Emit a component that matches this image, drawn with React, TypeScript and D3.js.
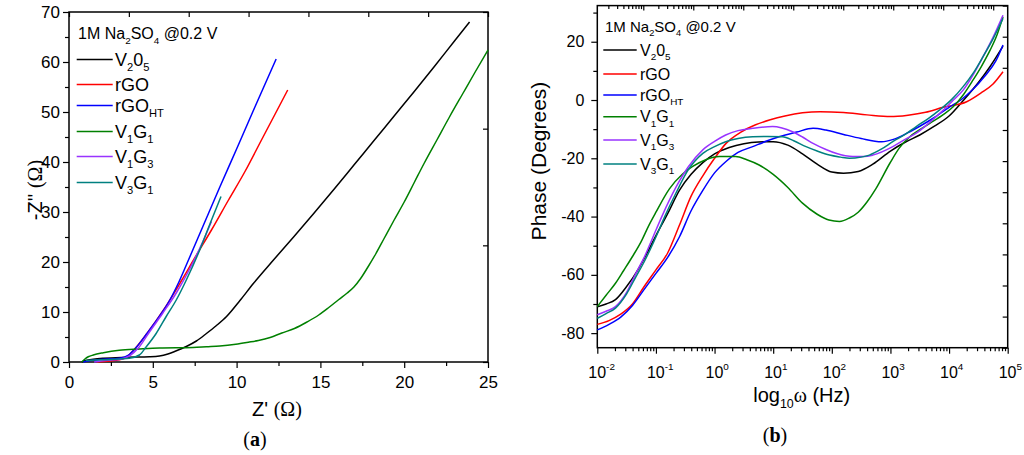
import { useRef, useEffect } from 'react';
import * as d3 from 'd3';

type Pt = [number, number];
type Part = [string, '' | 'sub' | 'sup', string?];

const SANS = "'Liberation Sans', Arial, Helvetica, sans-serif";
const SERIF = "'Liberation Serif', 'Times New Roman', serif";

// series order: V2O5, rGO, rGOHT, V1G1, V1G3, V3G1
const seriesColors = ['#000000', '#ff0000', '#0000ff', '#008000', '#9933ff', '#008080'];
const legendLabels: Part[][] = [
  [['V', ''], ['2', 'sub'], ['0', ''], ['5', 'sub']],
  [['rGO', '']],
  [['rGO', ''], ['HT', 'sub']],
  [['V', ''], ['1', 'sub'], ['G', ''], ['1', 'sub']],
  [['V', ''], ['1', 'sub'], ['G', ''], ['3', 'sub']],
  [['V', ''], ['3', 'sub'], ['G', ''], ['1', 'sub']],
];
const electrolyteLabel: Part[] = [['1M Na', ''], ['2', 'sub'], ['SO', ''], ['4', 'sub'], [' @0.2 V', '']];

// (a) Nyquist: [Z' (ohm), -Z'' (ohm)]
const nyqV2O5: Pt[] = [[0.76,0],[1.0,0.3],[1.45,0.55],[2.05,0.75],[3.4,0.95],[4.8,1.05],[5.4,1.2],[5.9,1.6],[6.3,2.1],[7.0,3.1],[7.6,4.2],[8.2,5.7],[8.8,7.3],[9.4,9.1],[10.2,12.3],[11.0,15.7],[12.2,20.4],[13.4,25.0],[14.6,29.7],[15.8,34.5],[17.0,39.4],[18.2,44.3],[19.4,49.2],[20.6,54.1],[21.8,59.1],[23.0,64.2],[23.9,68.0]];
const nyqRGO: Pt[] = [[1.65,0],[2.45,0.2],[3.0,0.45],[3.3,0.75],[3.5,1.2],[3.7,1.8],[4.05,3.1],[4.65,5.7],[5.6,10.2],[6.7,16.2],[7.5,20.8],[8.5,26.4],[9.5,32.3],[10.5,38.1],[11.5,44.5],[12.3,49.6],[13.05,54.4]];
const nyqRGOHT: Pt[] = [[0.85,0],[1.3,0.3],[1.85,0.5],[3.0,0.75],[3.55,1.4],[3.95,2.7],[4.65,5.7],[5.45,9.4],[6.0,12.3],[6.5,15.6],[7.0,19.4],[8.0,27.2],[9.0,35.0],[10.0,42.6],[11.0,50.3],[12.36,60.6]];
const nyqV1G1: Pt[] = [[0.76,0],[0.95,0.6],[1.15,1.05],[1.45,1.4],[2.05,1.85],[3.0,2.35],[4.2,2.6],[5.4,2.8],[7.4,2.9],[8.2,3.05],[9.0,3.2],[9.95,3.55],[10.7,3.95],[11.3,4.3],[12.0,4.9],[12.7,5.8],[13.45,6.7],[14.2,8.0],[14.9,9.4],[15.5,10.9],[16.1,12.5],[16.6,13.8],[17.0,15.0],[17.4,16.7],[17.8,18.8],[18.3,21.6],[18.8,24.7],[19.4,28.4],[20.0,32.0],[20.6,35.9],[21.2,39.8],[21.95,44.4],[22.7,49.0],[23.5,53.7],[24.2,57.8],[25.0,62.4]];
const nyqV1G3: Pt[] = [[1.5,0],[2.2,0.3],[3.0,0.5],[3.6,1.2],[4.2,3.05],[4.8,6.0],[5.6,9.8],[6.4,13.8],[7.2,18.6],[8.0,24.2],[8.5,28.1]];
const nyqV3G1: Pt[] = [[1.0,0.3],[1.6,0.4],[2.45,0.5],[3.6,0.75],[4.2,1.4],[4.6,3.0],[5.2,5.7],[5.8,9.1],[6.4,12.4],[7.0,16.4],[7.8,22.4],[8.42,27.7],[9.07,33.1]];

// (b) Bode phase: [log10 frequency, phase (deg)]
const bodeV2O5: Pt[] = [[-2,-71],[-1.85,-70],[-1.69,-68.5],[-1.5,-64],[-1.3,-58],[-1.15,-52.5],[-1.0,-46.5],[-0.8,-39],[-0.6,-31],[-0.4,-25.5],[-0.2,-21.5],[0,-18.5],[0.25,-16.3],[0.5,-15],[0.75,-14.4],[1.0,-14.3],[1.25,-15.5],[1.5,-18.5],[1.75,-22],[2.0,-24.7],[2.2,-25.1],[2.45,-24.5],[2.7,-22],[3.0,-17.5],[3.25,-14.5],[3.5,-12],[3.75,-9],[4.0,-5.5],[4.25,0],[4.5,6],[4.7,11.5],[4.92,18.5]];
const bodeRGO: Pt[] = [[-2,-77],[-1.8,-75.7],[-1.6,-73.5],[-1.4,-70],[-1.2,-64],[-1.0,-58.3],[-0.8,-52.5],[-0.6,-43],[-0.4,-33],[-0.2,-26],[0,-20],[0.2,-14.8],[0.45,-11],[0.7,-8.5],[0.95,-6.8],[1.2,-5.5],[1.5,-4.4],[1.8,-4],[2.2,-4.3],[2.6,-5.1],[3.0,-5.7],[3.3,-5.2],[3.6,-4.2],[3.9,-2.5],[4.3,-0.6],[4.55,2.5],[4.75,5.5],[4.92,9.7]];
const bodeRGOHT: Pt[] = [[-2,-78.9],[-1.8,-77],[-1.6,-74.5],[-1.4,-70.5],[-1.2,-65],[-1.0,-59.5],[-0.8,-54],[-0.6,-47],[-0.4,-38],[-0.2,-31],[0,-25],[0.2,-21],[0.4,-18],[0.65,-16],[0.9,-14],[1.1,-12.6],[1.4,-11],[1.68,-9.7],[1.9,-10.3],[2.2,-11.8],[2.5,-13.2],[2.85,-14.3],[3.05,-13.5],[3.3,-11.2],[3.5,-9],[3.75,-6],[4.0,-2.5],[4.2,0],[4.4,3.5],[4.6,8],[4.8,13.5],[4.92,18.9]];
const bodeV1G1: Pt[] = [[-2,-70.9],[-1.85,-67],[-1.69,-62.9],[-1.55,-58.5],[-1.4,-53.7],[-1.25,-48.5],[-1.12,-43],[-1.0,-38.5],[-0.77,-30.5],[-0.55,-25.5],[-0.38,-22.9],[-0.15,-20.5],[0.08,-19.4],[0.36,-19.4],[0.55,-20.5],[0.76,-22.3],[1.0,-25.5],[1.25,-30],[1.5,-35.4],[1.75,-39.2],[1.95,-41.2],[2.13,-41.7],[2.3,-40.5],[2.45,-38.5],[2.6,-35],[2.75,-30.5],[2.99,-21.7],[3.15,-16.5],[3.33,-12.6],[3.5,-10.2],[3.67,-8],[3.9,-5],[4.07,-2.3],[4.25,2],[4.41,6.9],[4.55,11.5],[4.7,17.1],[4.82,22.5],[4.92,28.6]];
const bodeV1G3: Pt[] = [[-2,-73.7],[-1.85,-72.5],[-1.69,-70.9],[-1.5,-66],[-1.34,-59.4],[-1.2,-54],[-1.06,-47.5],[-0.9,-40],[-0.66,-30],[-0.45,-23],[-0.2,-17.1],[0.0,-14.2],[0.19,-12],[0.4,-10.5],[0.65,-9.7],[0.99,-9.1],[1.15,-9.6],[1.33,-10.9],[1.5,-12.7],[1.68,-14.9],[1.9,-17],[2.07,-18.3],[2.36,-19.4],[2.55,-19.4],[2.7,-18.9],[3.04,-16],[3.25,-13.5],[3.44,-11.4],[3.65,-8],[3.84,-4.6],[4.05,-0.5],[4.24,3.4],[4.42,9],[4.58,14.9],[4.75,21.5],[4.92,29.1]];
const bodeV3G1: Pt[] = [[-2,-74.9],[-1.85,-73.3],[-1.69,-71.4],[-1.5,-66.5],[-1.34,-60.6],[-1.2,-55.5],[-1.0,-47],[-0.85,-40],[-0.66,-32],[-0.45,-24],[-0.2,-18.3],[0,-16],[0.19,-14.3],[0.4,-13.2],[0.65,-12.6],[0.9,-12.5],[1.16,-12.6],[1.35,-14],[1.56,-16],[1.75,-17.5],[1.96,-18.9],[2.15,-19.6],[2.3,-20],[2.5,-19.6],[2.64,-18.9],[2.85,-16.8],[3.04,-14.3],[3.25,-11.8],[3.44,-9.1],[3.65,-6.3],[3.84,-3.4],[4.05,0.3],[4.24,4.6],[4.42,9.5],[4.58,14.9],[4.75,21],[4.92,28]];

const nyquistSeries = [nyqV2O5, nyqRGO, nyqRGOHT, nyqV1G1, nyqV1G3, nyqV3G1];
const bodeSeries = [bodeV2O5, bodeRGO, bodeRGOHT, bodeV1G1, bodeV1G3, bodeV3G1];

const zReTicks = [0, 5, 10, 15, 20, 25];
const zReMinor = [2.5, 7.5, 12.5, 17.5, 22.5];
const zImTicks = [0, 10, 20, 30, 40, 50, 60, 70];
const zImMinor = [5, 15, 25, 35, 45, 55, 65];
const phaseTicks = [-80, -60, -40, -20, 0, 20];
const phaseMinor = [-70, -50, -30, -10, 10, 30];
const freqExponents = [-2, -1, 0, 1, 2, 3, 4, 5];

function addParts(t: any, parts: Part[], fs: number) {
  let shift = 0;
  parts.forEach(([s, kind, family]) => {
    const target = kind === 'sub' ? fs * 0.3 : kind === 'sup' ? -fs * 0.45 : 0;
    const ts = t.append('tspan').attr('dy', target - shift).text(s);
    if (kind) ts.attr('font-size', fs * 0.62);
    if (family) ts.attr('font-family', family);
    shift = target;
  });
}

function styleAxis(g: any, fs: number) {
  g.attr('font-family', SANS).attr('font-size', fs).attr('fill', '#000');
  g.select('.domain').remove();
  g.selectAll('line').attr('stroke', '#000').attr('stroke-width', 1.2);
  g.selectAll('text').attr('fill', '#000');
}

export default function App() {
  const svgRef = useRef<SVGSVGElement>(null);

  useEffect(() => {
    if (!svgRef.current) return;
    const svg = d3.select(svgRef.current);
    svg.selectAll('*').remove();

    // ---------- (a) Nyquist ----------
    const a = { left: 69, right: 488, top: 12, bottom: 362 };
    const x = d3.scaleLinear().domain([0, 25]).range([a.left, a.right]);
    const y = d3.scaleLinear().domain([0, 70]).range([a.bottom, a.top]);

    svg.append('g').attr('transform', `translate(0,${a.bottom})`)
      .call(d3.axisBottom(x).tickValues(zReTicks).tickSize(6).tickPadding(8).tickSizeOuter(0).tickFormat((d) => String(d)))
      .call((g) => styleAxis(g, 17));
    svg.append('g').attr('transform', `translate(0,${a.bottom})`)
      .call(d3.axisBottom(x).tickValues(zReMinor).tickSize(4).tickFormat(() => ''))
      .call((g) => styleAxis(g, 17));
    svg.append('g').attr('transform', `translate(${a.left},0)`)
      .call(d3.axisLeft(y).tickValues(zImTicks).tickSize(6).tickPadding(3).tickFormat((d) => String(d)))
      .call((g) => styleAxis(g, 17));
    svg.append('g').attr('transform', `translate(${a.left},0)`)
      .call(d3.axisLeft(y).tickValues(zImMinor).tickSize(4).tickFormat(() => ''))
      .call((g) => styleAxis(g, 17));
    // inward ticks on top and right
    svg.append('g').attr('transform', `translate(0,${a.top})`)
      .call(d3.axisTop(d3.scaleLinear().domain([0, 7]).range([a.left, a.right])).ticks(7).tickSize(-5).tickFormat(() => ''))
      .call((g) => styleAxis(g, 10));
    svg.append('g').attr('transform', `translate(${a.right},0)`)
      .call(d3.axisRight(d3.scaleLinear().domain([0, 3]).range([a.bottom, a.top])).ticks(3).tickSize(-5).tickFormat(() => ''))
      .call((g) => styleAxis(g, 10));

    svg.append('rect').attr('x', a.left).attr('y', a.top)
      .attr('width', a.right - a.left).attr('height', a.bottom - a.top)
      .attr('fill', 'none').attr('stroke', '#000').attr('stroke-width', 1.5);

    const lineA = d3.line<Pt>().x((d) => x(d[0])).y((d) => y(d[1])).curve(d3.curveMonotoneX);
    nyquistSeries.forEach((s, i) => {
      svg.append('path').datum(s).attr('fill', 'none')
        .attr('stroke', seriesColors[i]).attr('stroke-width', 1.5).attr('d', lineA);
    });

    // legend (a)
    const tA = svg.append('text').attr('x', 78).attr('y', 39).attr('font-family', SANS).attr('font-size', 16);
    addParts(tA, electrolyteLabel, 16);
    const rowsA = [59.5, 84.5, 105.5, 131.5, 156.5, 182.5];
    legendLabels.forEach((parts, i) => {
      svg.append('line').attr('x1', 76.7).attr('x2', 112.7).attr('y1', rowsA[i]).attr('y2', rowsA[i])
        .attr('stroke', seriesColors[i]).attr('stroke-width', 1.5);
      const t = svg.append('text').attr('x', 115).attr('y', rowsA[i] + 6.5)
        .attr('font-family', SANS).attr('font-size', 18);
      addParts(t, parts, 18);
    });

    // titles (a)
    const xtA = svg.append('text').attr('x', 277).attr('y', 416).attr('text-anchor', 'middle')
      .attr('font-family', SANS).attr('font-size', 20);
    addParts(xtA, [["Z' ", ''], ['(\u03A9)', '', SERIF]], 20);
    const ytA = svg.append('text').attr('transform', 'translate(42,190) rotate(-90)')
      .attr('text-anchor', 'middle').attr('font-family', SANS).attr('font-size', 20);
    addParts(ytA, [["-Z'' ", ''], ['(\u03A9)', '', SERIF]], 20);
    const capA = svg.append('text').attr('x', 255).attr('y', 446).attr('text-anchor', 'middle')
      .attr('font-family', SERIF).attr('font-size', 20);
    capA.append('tspan').text('(');
    capA.append('tspan').attr('font-weight', 'bold').text('a');
    capA.append('tspan').text(')');

    // ---------- (b) Bode phase ----------
    const b = { left: 597.3, right: 1007.7, top: 5.6, bottom: 347.7 };
    const fx = d3.scaleLog().domain([1e-2, 1e5]).range([b.left, b.right]);
    const py = d3.scaleLinear().domain([-85, 32.4]).range([b.bottom, b.top]);
    const decades = freqExponents.map((e) => Math.pow(10, e));
    const minorFreq = fx.ticks().filter((v) => !decades.some((d) => Math.abs(d - v) / d < 1e-6));

    svg.append('g').attr('transform', `translate(0,${b.bottom})`)
      .call(d3.axisBottom(fx).tickValues(decades).tickSize(6).tickFormat(() => ''))
      .call((g) => styleAxis(g, 16));
    svg.append('g').attr('transform', `translate(0,${b.bottom})`)
      .call(d3.axisBottom(fx).tickValues(minorFreq).tickSize(3.5).tickFormat(() => ''))
      .call((g) => styleAxis(g, 16));
    freqExponents.forEach((e) => {
      const t = svg.append('text').attr('x', fx(Math.pow(10, e)) - 9).attr('y', 377.5)
        .attr('font-family', SANS).attr('font-size', 16);
      addParts(t, [['10', ''], [String(e), 'sup']], 16);
    });
    svg.append('g').attr('transform', `translate(${b.left},0)`)
      .call(d3.axisLeft(py).tickValues(phaseTicks).tickSize(6).tickPadding(7).tickFormat((d) => String(d)))
      .call((g) => styleAxis(g, 16));
    svg.append('g').attr('transform', `translate(${b.left},0)`)
      .call(d3.axisLeft(py).tickValues(phaseMinor).tickSize(4).tickFormat(() => ''))
      .call((g) => styleAxis(g, 16));

    // inward ticks on top (offset log axis) and right
    const topLog = d3.scaleLog().domain([Math.pow(10, 0.08), Math.pow(10, 8.29)]).range([b.left, b.right]);
    const topAll = topLog.ticks();
    const isPow = (v: number) => Math.abs(Math.log10(v) - Math.round(Math.log10(v))) < 1e-6;
    svg.append('g').attr('transform', `translate(0,${b.top})`)
      .call(d3.axisTop(topLog).tickValues(topAll.filter(isPow)).tickSize(-5).tickFormat(() => ''))
      .call((g) => styleAxis(g, 10));
    svg.append('g').attr('transform', `translate(0,${b.top})`)
      .call(d3.axisTop(topLog).tickValues(topAll.filter((v) => !isPow(v))).tickSize(-3.5).tickFormat(() => ''))
      .call((g) => styleAxis(g, 10));
    svg.append('g').attr('transform', `translate(${b.right},0)`)
      .call(d3.axisRight(d3.scaleLinear().domain([0, 11]).range([b.bottom, b.top])).ticks(11).tickSize(-5).tickFormat(() => ''))
      .call((g) => styleAxis(g, 10));

    svg.append('rect').attr('x', b.left).attr('y', b.top)
      .attr('width', b.right - b.left).attr('height', b.bottom - b.top)
      .attr('fill', 'none').attr('stroke', '#000').attr('stroke-width', 1.5);

    const lineB = d3.line<Pt>().x((d) => fx(Math.pow(10, d[0]))).y((d) => py(d[1])).curve(d3.curveMonotoneX);
    bodeSeries.forEach((s, i) => {
      svg.append('path').datum(s).attr('fill', 'none')
        .attr('stroke', seriesColors[i]).attr('stroke-width', 1.5).attr('d', lineB);
    });

    // legend (b)
    const tB = svg.append('text').attr('x', 605).attr('y', 31.7).attr('font-family', SANS).attr('font-size', 15);
    addParts(tB, electrolyteLabel, 15);
    const rowsB = [50, 74, 95, 116.7, 140, 164];
    legendLabels.forEach((parts, i) => {
      svg.append('line').attr('x1', 603.3).attr('x2', 636.7).attr('y1', rowsB[i]).attr('y2', rowsB[i])
        .attr('stroke', seriesColors[i]).attr('stroke-width', 1.5);
      const t = svg.append('text').attr('x', 640).attr('y', rowsB[i] + 5.5)
        .attr('font-family', SANS).attr('font-size', 16);
      addParts(t, parts, 16);
    });

    // titles (b)
    const xtB = svg.append('text').attr('x', 801.7).attr('y', 402).attr('text-anchor', 'middle')
      .attr('font-family', SANS).attr('font-size', 20);
    addParts(xtB, [['log', ''], ['10', 'sub'], ['\u03C9', '', SERIF], [' (Hz)', '']], 20);
    svg.append('text').attr('transform', 'translate(546,161) rotate(-90)')
      .attr('text-anchor', 'middle').attr('font-family', SANS).attr('font-size', 21)
      .text('Phase (Degrees)');
    const capB = svg.append('text').attr('x', 775).attr('y', 442).attr('text-anchor', 'middle')
      .attr('font-family', SERIF).attr('font-size', 20);
    capB.append('tspan').text('(');
    capB.append('tspan').attr('font-weight', 'bold').text('b');
    capB.append('tspan').text(')');
  }, []);

  return (
    <svg
      ref={svgRef}
      width={1024}
      height={455}
      style={{ position: 'absolute', left: 0, top: 0, background: '#fff' }}
    />
  );
}
